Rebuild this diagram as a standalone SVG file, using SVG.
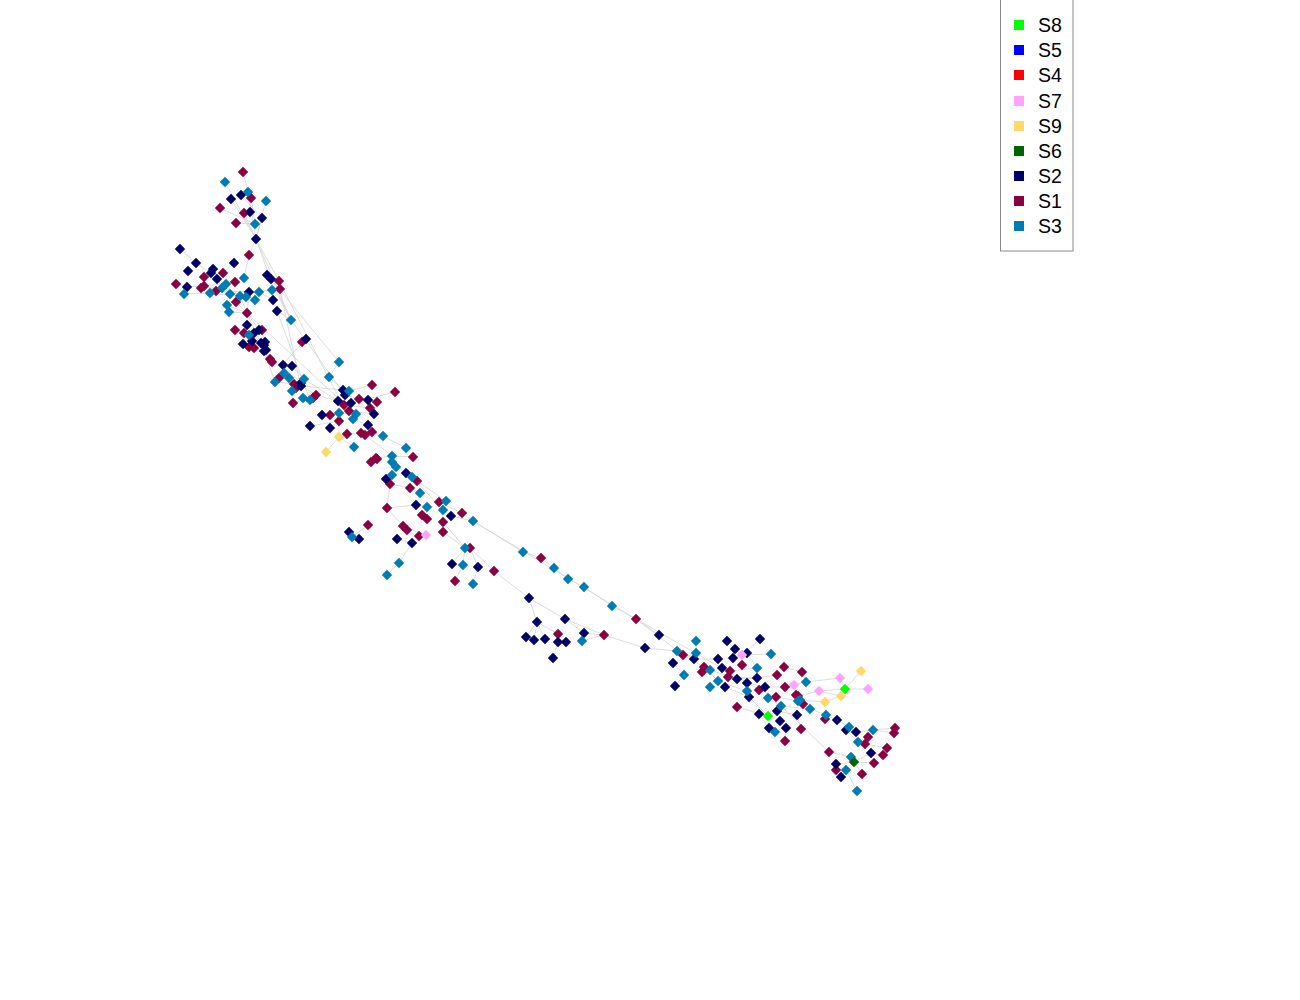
<svg xmlns="http://www.w3.org/2000/svg" xmlns:xlink="http://www.w3.org/1999/xlink" width="1300" height="1000" viewBox="0 0 1300 1000">
<style>
.e{stroke:#d4d4d4;stroke-width:0.8;fill:none}
.s1{fill:#8b0041}.s2{fill:#000066}.s3{fill:#007cb4}.s9{fill:#ffd966}.s7{fill:#ffa3ff}.s8{fill:#00ff00}.s6{fill:#006400}.s5{fill:#0000ff}.s4{fill:#ff0000}
.lt{font-family:"Liberation Sans",Arial,sans-serif;font-size:19.5px;fill:#000}
</style>
<defs><path id="d" d="M0,-5.2L5.2,0L0,5.2L-5.2,0Z"/></defs>
<rect width="1300" height="1000" fill="#fff"/>
<g id="edges">
<path class="e" d="M243,172L248,192M225,182L256,239M248,192L256,239M241,195L262,218M231,199L256,239M251,198L255,224M266,201L256,239M220,208L255,224M244,213L256,239M262,218L256,239M236,223L255,224M256,239L249,255M256,239L270,278M256,239L279,281M180,249L196,263M196,263L211,273M249,255L244,278M234,263L223,273M213,269L222,288M267,275L291,320M271,279L291,320M279,281L340,400M270,278L339,362M176,284L187,287M187,287L226,284M201,288L222,288M204,286L230,294M184,294L210,293M210,293L246,297M216,291L259,292M230,294L272,290M249,292L247,313M259,292L273,300M240,296L247,313M236,302L247,313M227,305L247,313M229,312L247,313M247,313L259,330M247,313L264,351M277,311L291,320M273,300L310,400M280,289L300,383M291,320L345,395M256,239L291,320M247,313L340,400M235,330L249,335M244,333L264,351M254,333L264,351M262,330L264,345M243,344L264,351M264,351L272,362M302,342L306,339M306,339L283,364M272,362L283,366M283,366L301,383M292,366L304,379M264,351L275,382M275,382L294,384M284,373L296,388M289,378L316,395M304,379L338,401M301,386L343,390M329,377L343,390M339,362L329,377M343,390L349,391M349,391L372,385M351,403L395,392M345,395L359,399M316,395L338,401M293,403L316,395M338,401L344,405M344,405L370,408M368,400L377,402M349,411L374,414M322,415L330,415M330,415L339,413M339,413L356,414M353,419L368,425M310,426L339,421M330,428L339,421M339,421L339,437M339,437L326,452M339,437L354,447M347,434L361,433M372,432L383,436M365,435L392,456M383,436L406,448M376,458L392,456M392,456L413,457M392,462L406,473M396,467L392,475M386,479L390,484M390,484L410,488M406,473L417,481M410,488L420,493M420,493L416,505M412,477L443,510M417,481L446,501M390,484L387,508M387,508L416,505M416,505L427,507M427,507L422,515M439,502L462,513M443,510L451,516M451,516L473,521M462,513L473,521M387,508L403,526M403,526L426,535M368,525L352,537M349,532L352,537M352,537L359,539M397,539L412,543M412,543L399,563M399,563L387,575M443,522L465,548M443,532L465,548M465,548L452,564M465,548L463,565M470,548L478,567M470,548L494,571M463,565L455,581M478,567L473,584M473,521L636,619M473,521L523,552M523,552L541,558M541,558L554,568M554,568L568,579M568,579L584,587M584,587L612,606M612,606L636,619M494,571L529,598M529,598L537,622M529,598L565,619M537,622L526,637M537,622L534,640M537,622L545,639M537,622L558,634M565,619L584,633M565,619L604,635M584,633L604,635M558,634L558,642M558,642L553,658M604,635L645,648M604,635L582,641M636,619L683,655M636,619L659,635M645,648L677,651M677,651L694,659M696,641L696,653M696,653L673,663M683,655L704,667M673,663L684,675M684,675L675,686M694,659L718,659M704,667L718,681M710,670L737,679M727,641L735,649M735,649L742,655M742,655L760,639M742,655L771,654M747,653L757,668M733,658L722,668M722,668L730,671M730,671L757,668M737,679L757,678M728,677L757,678M757,678L777,675M777,675L784,667M784,667L802,672M747,683L765,687M765,687L785,687M785,687L794,685M794,685L806,682M806,682L802,672M806,682L840,678M840,678L845,689M845,689L861,671M845,689L868,689M819,691L845,689M819,691L841,696M825,702L841,696M798,696L819,691M800,700L825,702M759,690L776,697M776,697L798,701M768,698L781,706M781,706L810,709M803,704L810,709M810,709L826,715M826,715L837,720M837,720L849,727M849,727L856,732M846,730L858,742M856,732L873,730M873,730L895,728M873,730L894,733M858,742L868,737M858,742L865,744M865,744L887,748M749,697L768,716M768,716L777,711M777,711L797,715M797,715L801,729M759,714L769,728M769,728L775,732M780,721L786,728M786,728L785,741M781,706L829,752M829,752L851,757M851,757L854,762M854,762L871,753M854,762L836,764M854,762L874,763M836,764L836,770M846,770L841,777M846,770L857,791M854,762L862,774M883,755L871,753M737,707L768,716M725,687L749,697M718,681L747,691M636,619L760,690"/>
</g>
<g id="nodes">
<g id="a1" class="s1"><use href="#d" x="243" y="172"/></g>
<g id="a2" class="s1"><use href="#d" x="251" y="198"/></g>
<g id="a3" class="s1"><use href="#d" x="220" y="208"/></g>
<g id="a4" class="s1"><use href="#d" x="244" y="213"/></g>
<g id="a5" class="s1"><use href="#d" x="236" y="223"/></g>
<g id="a6" class="s1"><use href="#d" x="249" y="255"/></g>
<g id="a7" class="s1"><use href="#d" x="223" y="273"/></g>
<g id="a8" class="s1"><use href="#d" x="204" y="277"/></g>
<g id="a9" class="s1"><use href="#d" x="279" y="281"/></g>
<g id="a10" class="s1"><use href="#d" x="176" y="284"/></g>
<g id="a11" class="s1"><use href="#d" x="201" y="288"/></g>
<g id="a12" class="s1"><use href="#d" x="204" y="286"/></g>
<g id="a13" class="s1"><use href="#d" x="235" y="282"/></g>
<g id="a14" class="s1"><use href="#d" x="216" y="291"/></g>
<g id="a15" class="s1"><use href="#d" x="280" y="289"/></g>
<g id="a16" class="s1"><use href="#d" x="236" y="302"/></g>
<g id="a17" class="s1"><use href="#d" x="247" y="313"/></g>
<g id="a18" class="s1"><use href="#d" x="235" y="330"/></g>
<g id="a19" class="s1"><use href="#d" x="262" y="330"/></g>
<g id="a20" class="s1"><use href="#d" x="244" y="333"/></g>
<g id="a21" class="s1"><use href="#d" x="302" y="342"/></g>
<g id="a22" class="s1"><use href="#d" x="249" y="347"/></g>
<g id="a23" class="s1"><use href="#d" x="254" y="348"/></g>
<g id="a24" class="s1"><use href="#d" x="270" y="359"/></g>
<g id="a25" class="s1"><use href="#d" x="272" y="362"/></g>
<g id="a26" class="s1"><use href="#d" x="279" y="378"/></g>
<g id="a27" class="s1"><use href="#d" x="294" y="384"/></g>
<g id="a28" class="s1"><use href="#d" x="296" y="388"/></g>
<g id="a29" class="s1"><use href="#d" x="372" y="385"/></g>
<g id="a30" class="s1"><use href="#d" x="395" y="392"/></g>
<g id="a31" class="s1"><use href="#d" x="316" y="395"/></g>
<g id="a32" class="s1"><use href="#d" x="313" y="398"/></g>
<g id="a33" class="s1"><use href="#d" x="293" y="403"/></g>
<g id="a34" class="s1"><use href="#d" x="359" y="399"/></g>
<g id="a35" class="s1"><use href="#d" x="377" y="402"/></g>
<g id="a36" class="s1"><use href="#d" x="344" y="405"/></g>
<g id="a37" class="s1"><use href="#d" x="370" y="408"/></g>
<g id="a38" class="s1"><use href="#d" x="349" y="411"/></g>
<g id="a39" class="s1"><use href="#d" x="330" y="415"/></g>
<g id="a40" class="s1"><use href="#d" x="339" y="421"/></g>
<g id="a41" class="s1"><use href="#d" x="372" y="432"/></g>
<g id="a42" class="s1"><use href="#d" x="347" y="434"/></g>
<g id="a43" class="s1"><use href="#d" x="361" y="433"/></g>
<g id="a44" class="s1"><use href="#d" x="365" y="435"/></g>
<g id="a45" class="s1"><use href="#d" x="376" y="458"/></g>
<g id="a46" class="s1"><use href="#d" x="413" y="457"/></g>
<g id="a47" class="s1"><use href="#d" x="371" y="462"/></g>
<g id="a48" class="s1"><use href="#d" x="377" y="459"/></g>
<g id="a49" class="s1"><use href="#d" x="390" y="484"/></g>
<g id="a50" class="s1"><use href="#d" x="417" y="481"/></g>
<g id="a51" class="s1"><use href="#d" x="410" y="488"/></g>
<g id="a52" class="s1"><use href="#d" x="387" y="508"/></g>
<g id="a53" class="s1"><use href="#d" x="439" y="502"/></g>
<g id="a54" class="s1"><use href="#d" x="462" y="513"/></g>
<g id="a55" class="s1"><use href="#d" x="422" y="515"/></g>
<g id="a56" class="s1"><use href="#d" x="427" y="519"/></g>
<g id="a57" class="s1"><use href="#d" x="443" y="522"/></g>
<g id="a58" class="s1"><use href="#d" x="368" y="525"/></g>
<g id="a59" class="s1"><use href="#d" x="403" y="526"/></g>
<g id="a60" class="s1"><use href="#d" x="407" y="530"/></g>
<g id="a61" class="s1"><use href="#d" x="419" y="536"/></g>
<g id="a62" class="s1"><use href="#d" x="443" y="532"/></g>
<g id="a63" class="s1"><use href="#d" x="470" y="548"/></g>
<g id="a64" class="s1"><use href="#d" x="494" y="571"/></g>
<g id="a65" class="s1"><use href="#d" x="455" y="581"/></g>
<g id="a66" class="s1"><use href="#d" x="541" y="558"/></g>
<g id="a67" class="s1"><use href="#d" x="636" y="619"/></g>
<g id="a68" class="s1"><use href="#d" x="558" y="634"/></g>
<g id="a69" class="s1"><use href="#d" x="604" y="635"/></g>
<g id="a70" class="s1"><use href="#d" x="683" y="655"/></g>
<g id="a71" class="s1"><use href="#d" x="742" y="665"/></g>
<g id="a72" class="s1"><use href="#d" x="704" y="667"/></g>
<g id="a73" class="s1"><use href="#d" x="702" y="672"/></g>
<g id="a74" class="s1"><use href="#d" x="730" y="671"/></g>
<g id="a75" class="s1"><use href="#d" x="728" y="677"/></g>
<g id="a76" class="s1"><use href="#d" x="784" y="667"/></g>
<g id="a77" class="s1"><use href="#d" x="777" y="675"/></g>
<g id="a78" class="s1"><use href="#d" x="785" y="687"/></g>
<g id="a79" class="s1"><use href="#d" x="759" y="690"/></g>
<g id="a80" class="s1"><use href="#d" x="776" y="697"/></g>
<g id="a81" class="s1"><use href="#d" x="796" y="695"/></g>
<g id="a82" class="s1"><use href="#d" x="737" y="707"/></g>
<g id="a83" class="s1"><use href="#d" x="785" y="741"/></g>
<g id="a84" class="s1"><use href="#d" x="802" y="672"/></g>
<g id="a85" class="s1"><use href="#d" x="798" y="696"/></g>
<g id="a86" class="s1"><use href="#d" x="803" y="704"/></g>
<g id="a87" class="s1"><use href="#d" x="825" y="719"/></g>
<g id="a88" class="s1"><use href="#d" x="801" y="729"/></g>
<g id="a89" class="s1"><use href="#d" x="868" y="737"/></g>
<g id="a90" class="s1"><use href="#d" x="865" y="744"/></g>
<g id="a91" class="s1"><use href="#d" x="887" y="748"/></g>
<g id="a92" class="s1"><use href="#d" x="883" y="755"/></g>
<g id="a93" class="s1"><use href="#d" x="829" y="752"/></g>
<g id="a94" class="s1"><use href="#d" x="874" y="763"/></g>
<g id="a95" class="s1"><use href="#d" x="836" y="770"/></g>
<g id="a96" class="s1"><use href="#d" x="862" y="774"/></g>
<g id="a97" class="s1"><use href="#d" x="895" y="728"/></g>
<g id="a98" class="s1"><use href="#d" x="894" y="733"/></g>
<g id="b1" class="s2"><use href="#d" x="241" y="195"/></g>
<g id="b2" class="s2"><use href="#d" x="231" y="199"/></g>
<g id="b3" class="s2"><use href="#d" x="250" y="212"/></g>
<g id="b4" class="s2"><use href="#d" x="262" y="218"/></g>
<g id="b5" class="s2"><use href="#d" x="256" y="239"/></g>
<g id="b6" class="s2"><use href="#d" x="180" y="249"/></g>
<g id="b7" class="s2"><use href="#d" x="196" y="263"/></g>
<g id="b8" class="s2"><use href="#d" x="234" y="263"/></g>
<g id="b9" class="s2"><use href="#d" x="188" y="271"/></g>
<g id="b10" class="s2"><use href="#d" x="213" y="269"/></g>
<g id="b11" class="s2"><use href="#d" x="211" y="273"/></g>
<g id="b12" class="s2"><use href="#d" x="267" y="275"/></g>
<g id="b13" class="s2"><use href="#d" x="271" y="279"/></g>
<g id="b14" class="s2"><use href="#d" x="217" y="279"/></g>
<g id="b15" class="s2"><use href="#d" x="187" y="287"/></g>
<g id="b16" class="s2"><use href="#d" x="249" y="292"/></g>
<g id="b17" class="s2"><use href="#d" x="273" y="300"/></g>
<g id="b18" class="s2"><use href="#d" x="277" y="311"/></g>
<g id="b19" class="s2"><use href="#d" x="247" y="325"/></g>
<g id="b20" class="s2"><use href="#d" x="259" y="330"/></g>
<g id="b21" class="s2"><use href="#d" x="254" y="333"/></g>
<g id="b22" class="s2"><use href="#d" x="306" y="339"/></g>
<g id="b23" class="s2"><use href="#d" x="243" y="344"/></g>
<g id="b24" class="s2"><use href="#d" x="252" y="341"/></g>
<g id="b25" class="s2"><use href="#d" x="261" y="343"/></g>
<g id="b26" class="s2"><use href="#d" x="265" y="342"/></g>
<g id="b27" class="s2"><use href="#d" x="264" y="351"/></g>
<g id="b28" class="s2"><use href="#d" x="264" y="345"/></g>
<g id="b29" class="s2"><use href="#d" x="266" y="350"/></g>
<g id="b30" class="s2"><use href="#d" x="283" y="365"/></g>
<g id="b31" class="s2"><use href="#d" x="292" y="366"/></g>
<g id="b32" class="s2"><use href="#d" x="301" y="383"/></g>
<g id="b33" class="s2"><use href="#d" x="301" y="386"/></g>
<g id="b34" class="s2"><use href="#d" x="343" y="390"/></g>
<g id="b35" class="s2"><use href="#d" x="345" y="395"/></g>
<g id="b36" class="s2"><use href="#d" x="368" y="400"/></g>
<g id="b37" class="s2"><use href="#d" x="338" y="401"/></g>
<g id="b38" class="s2"><use href="#d" x="351" y="403"/></g>
<g id="b39" class="s2"><use href="#d" x="374" y="414"/></g>
<g id="b40" class="s2"><use href="#d" x="322" y="415"/></g>
<g id="b41" class="s2"><use href="#d" x="310" y="426"/></g>
<g id="b42" class="s2"><use href="#d" x="330" y="428"/></g>
<g id="b43" class="s2"><use href="#d" x="368" y="425"/></g>
<g id="b44" class="s2"><use href="#d" x="406" y="473"/></g>
<g id="b45" class="s2"><use href="#d" x="386" y="479"/></g>
<g id="b46" class="s2"><use href="#d" x="416" y="505"/></g>
<g id="b47" class="s2"><use href="#d" x="451" y="516"/></g>
<g id="b48" class="s2"><use href="#d" x="349" y="532"/></g>
<g id="b49" class="s2"><use href="#d" x="359" y="539"/></g>
<g id="b50" class="s2"><use href="#d" x="397" y="539"/></g>
<g id="b51" class="s2"><use href="#d" x="412" y="543"/></g>
<g id="b52" class="s2"><use href="#d" x="452" y="564"/></g>
<g id="b53" class="s2"><use href="#d" x="478" y="567"/></g>
<g id="b54" class="s2"><use href="#d" x="529" y="598"/></g>
<g id="b55" class="s2"><use href="#d" x="537" y="622"/></g>
<g id="b56" class="s2"><use href="#d" x="565" y="619"/></g>
<g id="b57" class="s2"><use href="#d" x="526" y="637"/></g>
<g id="b58" class="s2"><use href="#d" x="534" y="640"/></g>
<g id="b59" class="s2"><use href="#d" x="545" y="639"/></g>
<g id="b60" class="s2"><use href="#d" x="558" y="642"/></g>
<g id="b61" class="s2"><use href="#d" x="566" y="642"/></g>
<g id="b62" class="s2"><use href="#d" x="584" y="633"/></g>
<g id="b63" class="s2"><use href="#d" x="553" y="658"/></g>
<g id="b64" class="s2"><use href="#d" x="659" y="635"/></g>
<g id="b65" class="s2"><use href="#d" x="645" y="648"/></g>
<g id="b66" class="s2"><use href="#d" x="727" y="641"/></g>
<g id="b67" class="s2"><use href="#d" x="760" y="639"/></g>
<g id="b68" class="s2"><use href="#d" x="694" y="659"/></g>
<g id="b69" class="s2"><use href="#d" x="735" y="649"/></g>
<g id="b70" class="s2"><use href="#d" x="747" y="653"/></g>
<g id="b71" class="s2"><use href="#d" x="673" y="663"/></g>
<g id="b72" class="s2"><use href="#d" x="718" y="659"/></g>
<g id="b73" class="s2"><use href="#d" x="733" y="658"/></g>
<g id="b74" class="s2"><use href="#d" x="722" y="668"/></g>
<g id="b75" class="s2"><use href="#d" x="737" y="679"/></g>
<g id="b76" class="s2"><use href="#d" x="757" y="678"/></g>
<g id="b77" class="s2"><use href="#d" x="675" y="686"/></g>
<g id="b78" class="s2"><use href="#d" x="725" y="687"/></g>
<g id="b79" class="s2"><use href="#d" x="747" y="683"/></g>
<g id="b80" class="s2"><use href="#d" x="765" y="687"/></g>
<g id="b81" class="s2"><use href="#d" x="749" y="697"/></g>
<g id="b82" class="s2"><use href="#d" x="777" y="711"/></g>
<g id="b83" class="s2"><use href="#d" x="759" y="714"/></g>
<g id="b84" class="s2"><use href="#d" x="780" y="721"/></g>
<g id="b85" class="s2"><use href="#d" x="769" y="728"/></g>
<g id="b86" class="s2"><use href="#d" x="786" y="728"/></g>
<g id="b87" class="s2"><use href="#d" x="797" y="715"/></g>
<g id="b88" class="s2"><use href="#d" x="837" y="720"/></g>
<g id="b89" class="s2"><use href="#d" x="846" y="730"/></g>
<g id="b90" class="s2"><use href="#d" x="856" y="732"/></g>
<g id="b91" class="s2"><use href="#d" x="871" y="753"/></g>
<g id="b92" class="s2"><use href="#d" x="836" y="764"/></g>
<g id="b93" class="s2"><use href="#d" x="841" y="777"/></g>
<g id="c1" class="s3"><use href="#d" x="225" y="182"/></g>
<g id="c2" class="s3"><use href="#d" x="248" y="192"/></g>
<g id="c3" class="s3"><use href="#d" x="266" y="201"/></g>
<g id="c4" class="s3"><use href="#d" x="255" y="224"/></g>
<g id="c5" class="s3"><use href="#d" x="244" y="278"/></g>
<g id="c6" class="s3"><use href="#d" x="226" y="284"/></g>
<g id="c7" class="s3"><use href="#d" x="222" y="288"/></g>
<g id="c8" class="s3"><use href="#d" x="210" y="293"/></g>
<g id="c9" class="s3"><use href="#d" x="184" y="294"/></g>
<g id="c10" class="s3"><use href="#d" x="230" y="294"/></g>
<g id="c11" class="s3"><use href="#d" x="259" y="292"/></g>
<g id="c12" class="s3"><use href="#d" x="272" y="290"/></g>
<g id="c13" class="s3"><use href="#d" x="240" y="296"/></g>
<g id="c14" class="s3"><use href="#d" x="246" y="297"/></g>
<g id="c15" class="s3"><use href="#d" x="255" y="300"/></g>
<g id="c16" class="s3"><use href="#d" x="227" y="305"/></g>
<g id="c17" class="s3"><use href="#d" x="229" y="312"/></g>
<g id="c18" class="s3"><use href="#d" x="291" y="320"/></g>
<g id="c19" class="s3"><use href="#d" x="249" y="335"/></g>
<g id="c20" class="s3"><use href="#d" x="339" y="362"/></g>
<g id="c21" class="s3"><use href="#d" x="284" y="373"/></g>
<g id="c22" class="s3"><use href="#d" x="275" y="382"/></g>
<g id="c23" class="s3"><use href="#d" x="289" y="378"/></g>
<g id="c24" class="s3"><use href="#d" x="304" y="379"/></g>
<g id="c25" class="s3"><use href="#d" x="329" y="377"/></g>
<g id="c26" class="s3"><use href="#d" x="292" y="391"/></g>
<g id="c27" class="s3"><use href="#d" x="349" y="391"/></g>
<g id="c28" class="s3"><use href="#d" x="303" y="398"/></g>
<g id="c29" class="s3"><use href="#d" x="310" y="400"/></g>
<g id="c30" class="s3"><use href="#d" x="339" y="413"/></g>
<g id="c31" class="s3"><use href="#d" x="356" y="414"/></g>
<g id="c32" class="s3"><use href="#d" x="353" y="419"/></g>
<g id="c33" class="s3"><use href="#d" x="383" y="436"/></g>
<g id="c34" class="s3"><use href="#d" x="354" y="447"/></g>
<g id="c35" class="s3"><use href="#d" x="406" y="448"/></g>
<g id="c36" class="s3"><use href="#d" x="392" y="456"/></g>
<g id="c37" class="s3"><use href="#d" x="392" y="462"/></g>
<g id="c38" class="s3"><use href="#d" x="396" y="467"/></g>
<g id="c39" class="s3"><use href="#d" x="392" y="475"/></g>
<g id="c40" class="s3"><use href="#d" x="412" y="477"/></g>
<g id="c41" class="s3"><use href="#d" x="420" y="493"/></g>
<g id="c42" class="s3"><use href="#d" x="427" y="507"/></g>
<g id="c43" class="s3"><use href="#d" x="446" y="501"/></g>
<g id="c44" class="s3"><use href="#d" x="443" y="510"/></g>
<g id="c45" class="s3"><use href="#d" x="473" y="521"/></g>
<g id="c46" class="s3"><use href="#d" x="352" y="537"/></g>
<g id="c47" class="s3"><use href="#d" x="465" y="548"/></g>
<g id="c48" class="s3"><use href="#d" x="399" y="563"/></g>
<g id="c49" class="s3"><use href="#d" x="463" y="565"/></g>
<g id="c50" class="s3"><use href="#d" x="387" y="575"/></g>
<g id="c51" class="s3"><use href="#d" x="473" y="584"/></g>
<g id="c52" class="s3"><use href="#d" x="523" y="552"/></g>
<g id="c53" class="s3"><use href="#d" x="554" y="568"/></g>
<g id="c54" class="s3"><use href="#d" x="568" y="579"/></g>
<g id="c55" class="s3"><use href="#d" x="584" y="587"/></g>
<g id="c56" class="s3"><use href="#d" x="612" y="606"/></g>
<g id="c57" class="s3"><use href="#d" x="582" y="641"/></g>
<g id="c58" class="s3"><use href="#d" x="696" y="641"/></g>
<g id="c59" class="s3"><use href="#d" x="677" y="651"/></g>
<g id="c60" class="s3"><use href="#d" x="696" y="653"/></g>
<g id="c61" class="s3"><use href="#d" x="771" y="654"/></g>
<g id="c62" class="s3"><use href="#d" x="710" y="670"/></g>
<g id="c63" class="s3"><use href="#d" x="757" y="668"/></g>
<g id="c64" class="s3"><use href="#d" x="684" y="675"/></g>
<g id="c65" class="s3"><use href="#d" x="718" y="681"/></g>
<g id="c66" class="s3"><use href="#d" x="710" y="687"/></g>
<g id="c67" class="s3"><use href="#d" x="747" y="691"/></g>
<g id="c68" class="s3"><use href="#d" x="768" y="698"/></g>
<g id="c69" class="s3"><use href="#d" x="781" y="706"/></g>
<g id="c70" class="s3"><use href="#d" x="798" y="701"/></g>
<g id="c71" class="s3"><use href="#d" x="775" y="732"/></g>
<g id="c72" class="s3"><use href="#d" x="806" y="682"/></g>
<g id="c73" class="s3"><use href="#d" x="800" y="700"/></g>
<g id="c74" class="s3"><use href="#d" x="810" y="709"/></g>
<g id="c75" class="s3"><use href="#d" x="826" y="715"/></g>
<g id="c76" class="s3"><use href="#d" x="849" y="727"/></g>
<g id="c77" class="s3"><use href="#d" x="873" y="730"/></g>
<g id="c78" class="s3"><use href="#d" x="858" y="742"/></g>
<g id="c79" class="s3"><use href="#d" x="851" y="757"/></g>
<g id="c80" class="s3"><use href="#d" x="846" y="770"/></g>
<g id="c81" class="s3"><use href="#d" x="857" y="791"/></g>
<g id="d1" class="s9"><use href="#d" x="339" y="437"/></g>
<g id="d2" class="s9"><use href="#d" x="326" y="452"/></g>
<g id="d3" class="s9"><use href="#d" x="861" y="671"/></g>
<g id="d4" class="s9"><use href="#d" x="841" y="696"/></g>
<g id="d5" class="s9"><use href="#d" x="825" y="702"/></g>
<g id="e1" class="s7"><use href="#d" x="426" y="535"/></g>
<g id="e2" class="s7"><use href="#d" x="742" y="655"/></g>
<g id="e3" class="s7"><use href="#d" x="794" y="685"/></g>
<g id="e4" class="s7"><use href="#d" x="840" y="678"/></g>
<g id="e5" class="s7"><use href="#d" x="868" y="689"/></g>
<g id="e6" class="s7"><use href="#d" x="819" y="691"/></g>
<g id="f1" class="s8"><use href="#d" x="768" y="716"/></g>
<g id="f2" class="s8"><use href="#d" x="845" y="689"/></g>
<g id="g1" class="s6"><use href="#d" x="854" y="762"/></g>
</g>
<g id="legend">
<rect x="1000.5" y="-1" width="72.5" height="252" fill="#fff" stroke="#888" stroke-width="1"/>
<rect class="s8" x="1014" y="20" width="10" height="10"/><text class="lt" x="1038" y="32">S8</text>
<rect class="s5" x="1014" y="45" width="10" height="10"/><text class="lt" x="1038" y="57">S5</text>
<rect class="s4" x="1014" y="70" width="10" height="10"/><text class="lt" x="1038" y="82">S4</text>
<rect class="s7" x="1014" y="96" width="10" height="10"/><text class="lt" x="1038" y="108">S7</text>
<rect class="s9" x="1014" y="121" width="10" height="10"/><text class="lt" x="1038" y="133">S9</text>
<rect class="s6" x="1014" y="146" width="10" height="10"/><text class="lt" x="1038" y="158">S6</text>
<rect class="s2" x="1014" y="171" width="10" height="10"/><text class="lt" x="1038" y="183">S2</text>
<rect class="s1" x="1014" y="196" width="10" height="10"/><text class="lt" x="1038" y="208">S1</text>
<rect class="s3" x="1014" y="221" width="10" height="10"/><text class="lt" x="1038" y="233">S3</text>
</g>
</svg>
